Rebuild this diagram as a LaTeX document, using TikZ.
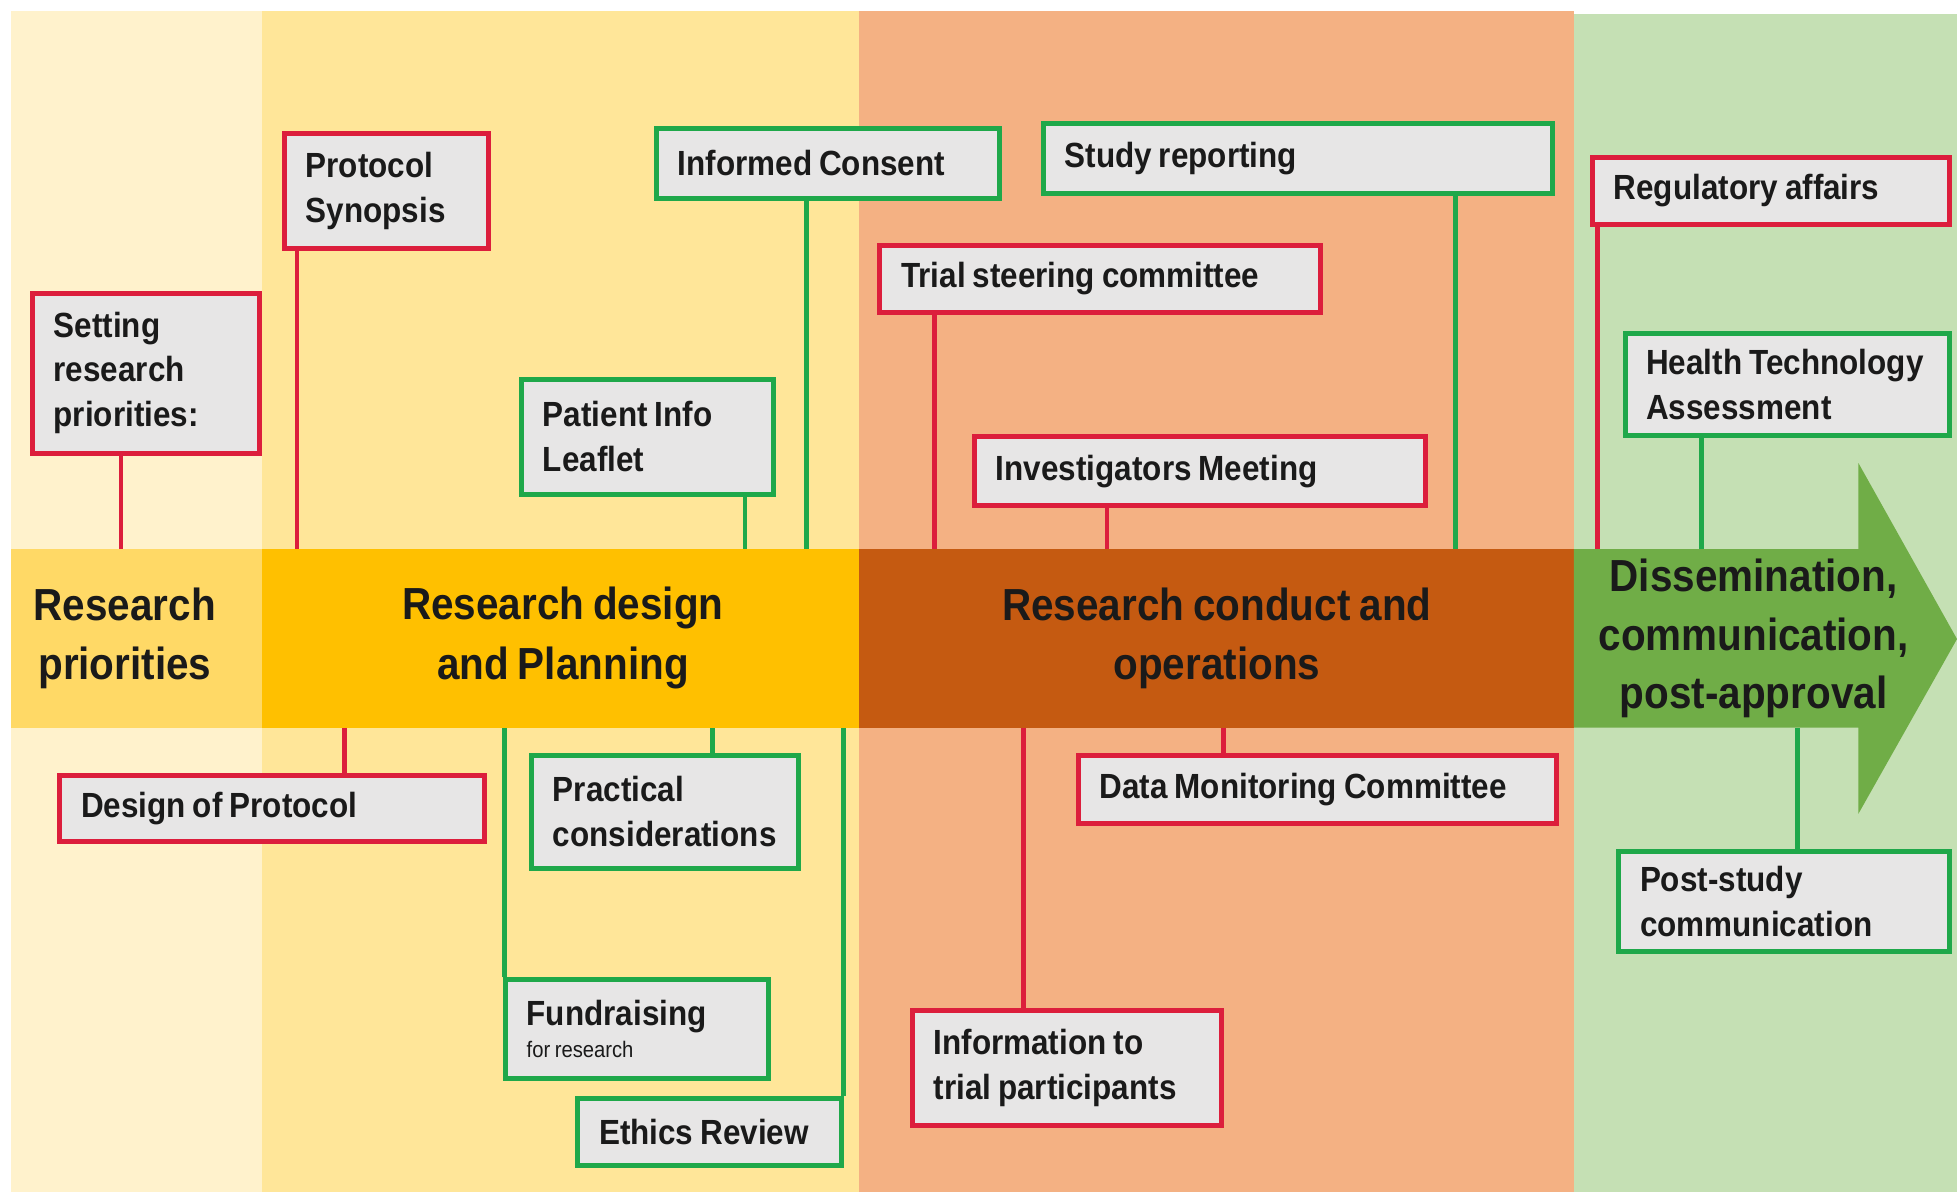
\documentclass[tikz,border=0pt]{standalone}
\usepackage{fontspec}
\setmainfont{Liberation Sans}[FakeStretch=0.9,WordSpace=0.8]
\hyphenpenalty=10000
\exhyphenpenalty=10000
\definecolor{cA}{HTML}{FFF2CC}
\definecolor{cB}{HTML}{FFE699}
\definecolor{cC}{HTML}{F4B183}
\definecolor{cD}{HTML}{C5E0B4}
\definecolor{bA}{HTML}{FFD966}
\definecolor{bB}{HTML}{FFC000}
\definecolor{bC}{HTML}{C55A11}
\definecolor{bD}{HTML}{70AD47}
\definecolor{rd}{HTML}{DC1E3C}
\definecolor{gn}{HTML}{1FA84A}
\definecolor{bxfill}{HTML}{E7E6E6}
\definecolor{ink}{HTML}{1A1A1A}
\newcommand\tightsp{\spaceskip=0pt\relax}
\tikzset{
  bx/.style={fill=bxfill, line width=4pt, inner xsep=17pt, inner ysep=0pt,
    align=left, text=ink, font=\fontsize{28}{36}\selectfont\bfseries, anchor=north west},
  stage/.style={inner sep=0pt, minimum height=143pt, align=center, text=ink,
    font=\fontsize{36}{48}\selectfont\bfseries},
  rl/.style={draw=rd, line width=3.8pt},
  gl/.style={draw=gn, line width=3.8pt},
}
\newcommand\bx[7]{\pgfmathsetmacro\tw{#5-34}\node[bx,draw=#2,minimum width=#5pt,minimum height=#6pt,text width=\tw pt] (#1) at (#3,#4) {\tightsp #7};}
\begin{document}
\begin{tikzpicture}[x=1pt,y=-1pt]
\useasboundingbox (0,0) rectangle (1568,955);
\fill[white] (0,0) rectangle (1568,955);
% column backgrounds
\fill[cA] (9,9) rectangle (210,955);
\fill[cB] (210,9) rectangle (688,955);
\fill[cC] (688,9) rectangle (1261,955);
\fill[cD] (1261,11) rectangle (1568,955);
% band
\fill[bA] (9,440) rectangle (210,583);
\fill[bB] (210,440) rectangle (688,583);
\fill[bC] (688,440) rectangle (1261,583);
\fill[bD] (1261,440) -- (1489,440) -- (1489,371) -- (1568,512) -- (1489,652) -- (1489,583) -- (1261,583) -- cycle;
% stage labels
\node[stage] (p1) at (100,511.5) {Research\\priorities};
\node[stage] (p2) at (451,511.5) {Research~design\\and~Planning};
\node[stage] (p3) at (975,511.5) {Research~conduct~and\\operations};
\node[stage, font=\fontsize{36}{47}\selectfont\bfseries] (p4) at (1405,511.5) {Dissemination,\\communication,\\post-approval};
% top boxes
\bx{sr}{rd}{24}{233}{182}{128}{\fontsize{28}{35}\selectfont Setting\\research\\priorities:}
\bx{ps}{rd}{226}{105}{163}{92}{\fontsize{28}{38}\selectfont Protocol\\Synopsis}
\bx{ic}{gn}{524}{101}{275}{56}{Informed~Consent}
\bx{pil}{gn}{416}{302}{202}{92}{\fontsize{28}{38}\selectfont Patient~Info\\Leaflet}
\bx{srp}{gn}{834}{97}{408}{56}{Study~reporting}
\bx{tsc}{rd}{703}{195}{353}{53}{Trial~steering~committee}
\bx{im}{rd}{779}{348}{361}{55}{Investigators~Meeting}
\bx{ra}{rd}{1274}{124}{286}{54}{Regulatory~affairs}
\bx{hta}{gn}{1300}{265}{260}{82}{\fontsize{28}{30}\selectfont Health~Technology\\Assessment}
% bottom boxes
\bx{dp}{rd}{46}{619}{340}{53}{Design~of~Protocol}
\bx{pc}{gn}{424}{603}{214}{91}{\fontsize{28}{37}\selectfont Practical\\considerations}
\bx{fr}{gn}{403}{783}{211}{79}{Fundraising\\[-10pt]\mbox{\fontsize{18}{20}\selectfont\mdseries\tightsp for research}}
\bx{er}{gn}{461}{878}{211}{54}{Ethics~Review}
\bx{itp}{rd}{729}{808}{248}{92}{\fontsize{28}{39}\selectfont Information~to\\trial~participants}
\bx{dmc}{rd}{862}{603}{383}{55}{Data~Monitoring~Committee}
\bx{psc}{gn}{1295}{680}{265}{80}{\fontsize{28}{32}\selectfont Post-study\\communication}
% connectors above the band
\draw[rl] ([xshift=73pt]sr.south west) -- ([xshift=73pt]sr.south west |- p1.north);
\draw[rl] ([xshift=12pt]ps.south west) -- ([xshift=12pt]ps.south west |- p2.north);
\draw[gl] ([xshift=122pt]ic.south west) -- ([xshift=122pt]ic.south west |- p2.north);
\draw[gl] ([xshift=181pt]pil.south west) -- ([xshift=181pt]pil.south west |- p2.north);
\draw[gl] ([xshift=332pt]srp.south west) -- ([xshift=332pt]srp.south west |- p3.north);
\draw[rl] ([xshift=46pt]tsc.south west) -- ([xshift=46pt]tsc.south west |- p3.north);
\draw[rl] ([xshift=108pt]im.south west) -- ([xshift=108pt]im.south west |- p3.north);
\draw[rl] ([xshift=6pt]ra.south west) -- ([xshift=6pt]ra.south west |- p4.north);
\draw[gl] ([xshift=63pt]hta.south west) -- ([xshift=63pt]hta.south west |- p4.north);
% connectors below the band
\draw[rl] ([xshift=230pt]dp.north west) -- ([xshift=230pt]dp.north west |- p1.south);
\draw[gl] ([xshift=147pt]pc.north west) -- ([xshift=147pt]pc.north west |- p2.south);
\draw[gl] ([xshift=1pt]fr.north west) -- ([xshift=1pt]fr.north west |- p2.south);
\draw[gl] (er.north east) -- (er.north east |- p2.south);
\draw[rl] ([xshift=91pt]itp.north west) -- ([xshift=91pt]itp.north west |- p3.south);
\draw[rl] ([xshift=118pt]dmc.north west) -- ([xshift=118pt]dmc.north west |- p3.south);
\draw[gl] ([xshift=145pt]psc.north west) -- ([xshift=145pt]psc.north west |- p4.south);
\end{tikzpicture}
\end{document}
